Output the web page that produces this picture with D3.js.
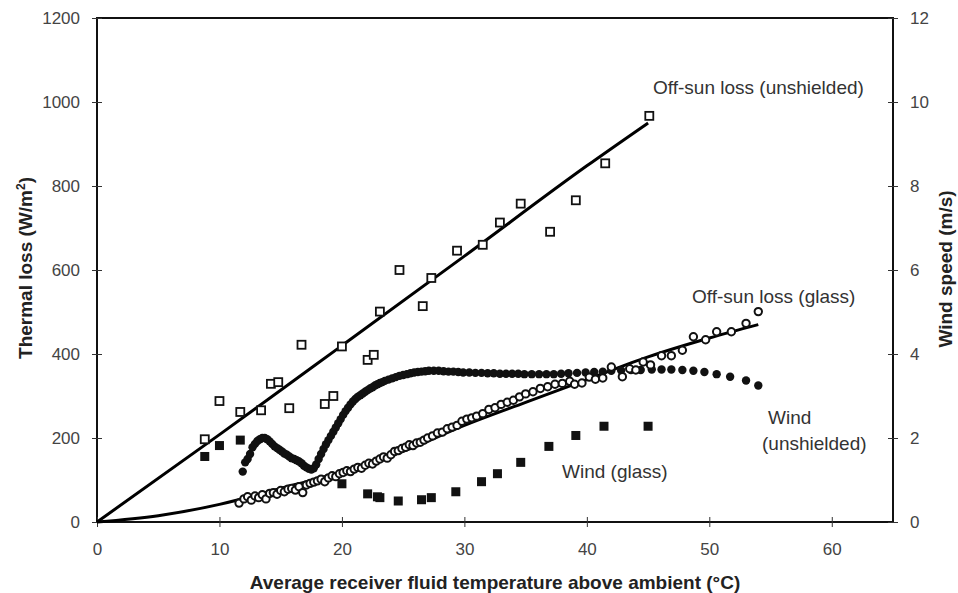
<!DOCTYPE html>
<html>
<head>
<meta charset="utf-8">
<script src="https://cdn.jsdelivr.net/npm/d3@7"></script>
<style>
  html, body { margin: 0; padding: 0; background: #fff; }
  svg { display: block; font-family: "Liberation Sans", Arial, sans-serif; }
</style>
</head>
<body>
<svg id="chart" width="958" height="593"></svg>
<script>
// ---------- data ----------
const xTicks = [0, 10, 20, 30, 40, 50, 60];
const yLeftTicks = [0, 200, 400, 600, 800, 1000, 1200];
const yRightTicks = [0, 2, 4, 6, 8, 10, 12];

// Off-sun loss (unshielded), open squares, W/m2
const unshieldedX = [8.8, 10.0, 11.7, 13.4, 14.2, 14.8, 15.7, 16.7, 18.6, 19.3, 20.0, 22.1, 22.6, 23.1, 24.7, 26.6, 27.3, 29.4, 31.5, 32.9, 34.6, 37.0, 39.1, 41.5, 45.1];
const unshieldedY = [197, 288, 262, 266, 329, 333, 271, 422, 281, 300, 418, 386, 398, 501, 600, 514, 581, 646, 660, 713, 758, 691, 766, 854, 967];

// Fitted curve, unshielded
const fitUnshieldedX = [0, 10, 20, 30, 40, 45];
const fitUnshieldedY = [0, 208, 420, 633, 848, 950];

// Off-sun loss (glass), open circles, W/m2
const glassX = [11.6, 12.0, 12.3, 12.6, 12.9, 13.2, 13.5, 13.8, 14.1, 14.4, 14.7, 15.0, 15.3, 15.6, 15.9, 16.2, 16.5, 16.8, 17.1, 17.4, 17.7, 18.0, 18.3, 18.6, 18.9, 19.2, 19.5, 19.8, 20.1, 20.4, 20.7, 21.0, 21.3, 21.6, 21.9, 22.2, 22.5, 22.8, 23.1, 23.4, 23.7, 24.0, 24.3, 24.6, 24.9, 25.2, 25.5, 25.8, 26.1, 26.4, 26.7, 27.0, 27.4, 27.8, 28.2, 28.6, 29.0, 29.4, 29.8, 30.2, 30.6, 31.0, 31.5, 32.0, 32.5, 33.0, 33.5, 34.0, 34.5, 35.0, 35.6, 36.2, 36.8, 37.4, 38.0, 38.6, 39.0, 39.6, 40.2, 40.7, 41.3, 42.0, 42.9, 43.5, 44.0, 44.6, 45.2, 46.1, 46.9, 47.8, 48.7, 49.7, 50.6, 51.8, 53.0, 54.0];
const glassY = [45, 55, 60, 52, 62, 58, 65, 55, 68, 70, 66, 75, 72, 78, 80, 76, 84, 70, 88, 92, 95, 98, 102, 96, 105, 110, 108, 115, 118, 122, 120, 126, 130, 128, 135, 140, 138, 145, 150, 155, 152, 160, 168, 170, 175, 178, 184, 182, 188, 190, 195, 200, 205, 212, 214, 222, 226, 230, 240, 245, 248, 252, 258, 268, 272, 280, 285, 290, 298, 305, 310, 318, 322, 328, 330, 335, 328, 331, 345, 340, 343, 369, 346, 365, 362, 381, 374, 396, 396, 409, 441, 434, 453, 453, 473, 501];

// Fitted curve, glass
const fitGlassX = [0, 5, 10, 15, 20, 25, 30, 35, 40, 45, 50, 54];
const fitGlassY = [0, 15, 42, 80, 120, 168, 230, 285, 339, 393, 438, 470];

// Wind (unshielded), filled circles, m/s
const windUnshX = [11.9, 12.1, 12.3, 12.5, 12.7, 12.9, 13.1, 13.3, 13.5, 13.7, 13.9, 14.1, 14.3, 14.5, 14.7, 14.9, 15.1, 15.3, 15.5, 15.7, 15.9, 16.1, 16.3, 16.5, 16.7, 16.9, 17.1, 17.3, 17.5, 17.7, 17.9, 18.1, 18.3, 18.5, 18.7, 18.9, 19.1, 19.3, 19.5, 19.7, 19.9, 20.1, 20.3, 20.5, 20.7, 20.9, 21.1, 21.3, 21.5, 21.7, 21.9, 22.1, 22.3, 22.5, 22.7, 22.9, 23.1, 23.3, 23.5, 23.8, 24.1, 24.4, 24.7, 25.0, 25.3, 25.6, 25.9, 26.2, 26.5, 26.8, 27.1, 27.5, 27.9, 28.3, 28.7, 29.1, 29.5, 29.9, 30.4, 30.9, 31.4, 31.9, 32.4, 32.9, 33.4, 33.9, 34.4, 34.9, 35.5, 36.1, 36.7, 37.3, 37.9, 38.5, 39.2, 39.9, 40.6, 41.3, 42.0, 42.8, 43.6, 44.4, 45.3, 46.1, 46.9, 47.8, 48.7, 49.6, 50.6, 51.7, 53.0, 54.0];
const windUnshY = [1.2, 1.42, 1.5, 1.62, 1.78, 1.86, 1.93, 1.97, 2.0, 2.0, 1.97, 1.92, 1.86, 1.8, 1.76, 1.72, 1.68, 1.63, 1.6, 1.56, 1.52, 1.5, 1.47, 1.44, 1.4, 1.34, 1.3, 1.27, 1.25, 1.28, 1.37, 1.5, 1.62, 1.74, 1.85, 1.95, 2.05, 2.15, 2.25, 2.35, 2.45, 2.55, 2.64, 2.72, 2.8, 2.87, 2.93, 2.98, 3.02, 3.06, 3.1, 3.14, 3.18, 3.21, 3.25, 3.28, 3.31, 3.33, 3.36, 3.39, 3.42, 3.45, 3.48, 3.5, 3.52, 3.54, 3.56, 3.57, 3.58, 3.59, 3.6, 3.6, 3.6, 3.59, 3.58, 3.58, 3.57, 3.56, 3.56, 3.55, 3.55, 3.54, 3.54, 3.53, 3.53, 3.53, 3.53, 3.52, 3.52, 3.52, 3.52, 3.52, 3.53, 3.54, 3.55, 3.56, 3.57, 3.58, 3.6, 3.61, 3.62, 3.62, 3.63, 3.63, 3.63, 3.62, 3.6, 3.57, 3.52, 3.46, 3.37, 3.25];

// Wind (glass), filled squares, m/s
const windGlassX = [8.8, 10.0, 11.7, 20.0, 22.1, 22.9, 23.1, 24.6, 26.5, 27.3, 29.3, 31.4, 32.7, 34.6, 36.9, 39.1, 41.4, 45.0];
const windGlassY = [1.56, 1.82, 1.95, 0.91, 0.67, 0.6, 0.58, 0.5, 0.53, 0.58, 0.72, 0.96, 1.15, 1.42, 1.8, 2.06, 2.28, 2.28];

const labels = [
  { text: "Off-sun loss (unshielded)", x: 653, y: 94 },
  { text: "Off-sun loss (glass)", x: 692, y: 303 },
  { text: "Wind", x: 768, y: 424 },
  { text: "(unshielded)", x: 762, y: 450 },
  { text: "Wind (glass)", x: 562, y: 478 }
];

// ---------- layout ----------
const svg = d3.select("#chart");
const L = 97, R = 893, T = 18, B = 522;

const x = d3.scaleLinear().domain([0, 65]).range([L, R]);
const yL = d3.scaleLinear().domain([0, 1200]).range([B, T]);
const yR = d3.scaleLinear().domain([0, 12]).range([B, T]);

const tickColor = "#444";
const fmt = d3.format("d");

// frame
svg.append("rect").attr("x", L).attr("y", T).attr("width", R - L).attr("height", B - T)
  .attr("fill", "none").attr("stroke", "#111").attr("stroke-width", 2);

// axes
function styleAxis(g) {
  g.select(".domain").remove();
  g.selectAll(".tick line").attr("stroke", "#333").attr("stroke-width", 1);
  g.selectAll(".tick text").attr("fill", tickColor).style("font-size", "17px")
    .style("font-family", "'Liberation Sans', Arial, sans-serif");
}

const gx = svg.append("g").attr("transform", `translate(0,${B})`)
  .call(d3.axisBottom(x).tickValues(xTicks).tickFormat(fmt).tickSize(5).tickPadding(16));
styleAxis(gx);
gx.selectAll(".tick line").attr("y1", -5).attr("y2", 5);

const gyl = svg.append("g").attr("transform", `translate(${L},0)`)
  .call(d3.axisLeft(yL).tickValues(yLeftTicks).tickFormat(fmt).tickSize(5).tickPadding(12));
styleAxis(gyl);
gyl.selectAll(".tick line").attr("x1", -5).attr("x2", 5);

const gyr = svg.append("g").attr("transform", `translate(${R},0)`)
  .call(d3.axisRight(yR).tickValues(yRightTicks).tickFormat(fmt).tickSize(5).tickPadding(12));
styleAxis(gyr);
gyr.selectAll(".tick line").attr("x1", -5).attr("x2", 5);

// fit lines
const lineL = d3.line().x(d => x(d[0])).y(d => yL(d[1])).curve(d3.curveMonotoneX);
svg.append("path").datum(d3.zip(fitUnshieldedX, fitUnshieldedY))
  .attr("d", lineL).attr("fill", "none").attr("stroke", "#000").attr("stroke-width", 3);
svg.append("path").datum(d3.zip(fitGlassX, fitGlassY))
  .attr("d", lineL).attr("fill", "none").attr("stroke", "#000").attr("stroke-width", 3);

// wind unshielded: filled circles
svg.append("g").selectAll("circle").data(d3.zip(windUnshX, windUnshY)).join("circle")
  .attr("cx", d => x(d[0])).attr("cy", d => yR(d[1])).attr("r", 4.2).attr("fill", "#111");

// glass loss: open circles
svg.append("g").selectAll("circle").data(d3.zip(glassX, glassY)).join("circle")
  .attr("cx", d => x(d[0])).attr("cy", d => yL(d[1])).attr("r", 3.7)
  .attr("fill", "#fff").attr("stroke", "#111").attr("stroke-width", 2);

// wind glass: filled squares
const sq = 9;
svg.append("g").selectAll("rect").data(d3.zip(windGlassX, windGlassY)).join("rect")
  .attr("x", d => x(d[0]) - sq / 2).attr("y", d => yR(d[1]) - sq / 2)
  .attr("width", sq).attr("height", sq).attr("fill", "#111");

// unshielded loss: open squares
const osq = 8;
svg.append("g").selectAll("rect").data(d3.zip(unshieldedX, unshieldedY)).join("rect")
  .attr("x", d => x(d[0]) - osq / 2).attr("y", d => yL(d[1]) - osq / 2)
  .attr("width", osq).attr("height", osq).attr("fill", "#fff")
  .attr("stroke", "#111").attr("stroke-width", 1.8);

// series labels
svg.append("g").selectAll("text").data(labels).join("text")
  .attr("x", d => d.x).attr("y", d => d.y).text(d => d.text)
  .attr("fill", "#333").style("font-size", "19px");

// axis titles
svg.append("text").attr("x", 495).attr("y", 589).attr("text-anchor", "middle")
  .attr("fill", "#222").style("font-size", "19px").style("font-weight", "bold")
  .text("Average receiver fluid temperature above ambient (°C)");

const lt = svg.append("text").attr("transform", "translate(32,268) rotate(-90)")
  .attr("text-anchor", "middle").attr("fill", "#222")
  .style("font-size", "19px").style("font-weight", "bold");
lt.append("tspan").text("Thermal loss  (W/m");
lt.append("tspan").text("2").attr("dy", -7).style("font-size", "12px");
lt.append("tspan").text(")").attr("dy", 7);

svg.append("text").attr("transform", "translate(952,269) rotate(-90)")
  .attr("text-anchor", "middle").attr("fill", "#222")
  .style("font-size", "19px").style("font-weight", "bold")
  .text("Wind speed  (m/s)");
</script>
</body>
</html>
